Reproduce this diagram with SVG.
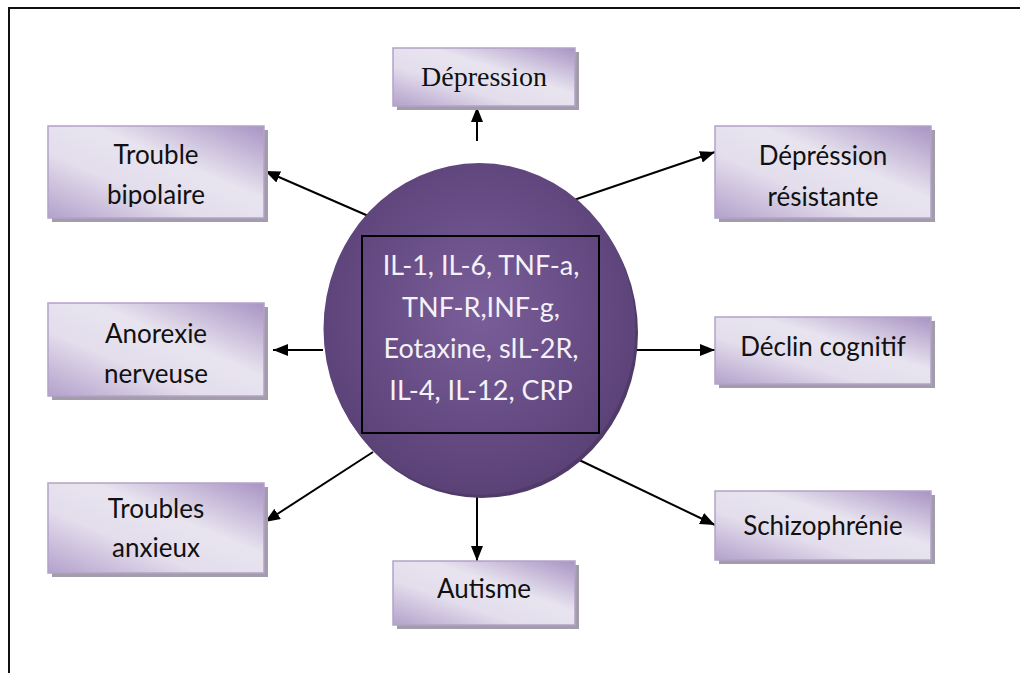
<svg xmlns="http://www.w3.org/2000/svg" width="1020" height="673" viewBox="0 0 1020 673">
<style>
.box{fill:url(#boxg);stroke:#b3a3c8;stroke-width:1.5}
.shadow{fill:#a39cab}
.lbl{font-family:Lato,"Open Sans","Liberation Sans",sans-serif;font-size:26px;fill:#111;text-anchor:middle}
.serif{font-family:"Liberation Serif",serif;font-size:28px;fill:#111;text-anchor:middle}
.ctext{font-family:Lato,"Open Sans","Liberation Sans",sans-serif;font-size:27px;fill:#f4f1f8;text-anchor:middle}
.conn{stroke:#000;stroke-width:2;fill:none;marker-end:url(#arr)}
</style>
<defs>
<linearGradient id="boxg" x1="0" y1="1" x2="1" y2="0">
<stop offset="0" stop-color="#b3a1cb"/>
<stop offset="0.35" stop-color="#e3ddec"/>
<stop offset="0.6" stop-color="#e8e4ef"/>
<stop offset="1" stop-color="#a993c4"/>
</linearGradient>
<radialGradient id="circg" cx="0.5" cy="0.45" r="0.55">
<stop offset="0" stop-color="#7a5e9a"/>
<stop offset="1" stop-color="#5a4176"/>
</radialGradient>
<marker id="arr" viewBox="0 0 15 12" refX="15" refY="6" markerWidth="15" markerHeight="12" markerUnits="userSpaceOnUse" orient="auto">
<path d="M0,0 L15,6 L0,12 Z" fill="#000"/>
</marker>
<clipPath id="clipbip"><rect x="48" y="126" width="216" height="81"/></clipPath>
</defs>
<rect width="1020" height="673" fill="#fff"/>
<path d="M9,673 V8 H1020" fill="none" stroke="#111" stroke-width="2"/>

<g id="connectors">
<line class="conn" x1="477" y1="141" x2="477" y2="107"/>
<line class="conn" x1="373" y1="218" x2="265" y2="171"/>
<line class="conn" x1="568" y1="202" x2="715" y2="152"/>
<line class="conn" x1="323" y1="350" x2="273" y2="350"/>
<line class="conn" x1="636" y1="350" x2="715" y2="350"/>
<line class="conn" x1="373" y1="452" x2="265" y2="522"/>
<line class="conn" x1="573" y1="457" x2="715" y2="525"/>
<line class="conn" x1="477" y1="495" x2="477" y2="561"/>
</g>

<g id="center">
<ellipse cx="482" cy="333" rx="156" ry="165" fill="#4f3a68"/>
<ellipse cx="479.5" cy="329" rx="156" ry="166" fill="url(#circg)"/>
<rect x="362" y="236" width="237" height="197" fill="none" stroke="#000" stroke-width="2"/>
<text class="ctext" x="481" y="275">IL-1, IL-6, TNF-a,</text>
<text class="ctext" x="481" y="316.5">TNF-R,INF-g,</text>
<text class="ctext" x="481" y="358">Eotaxine, sIL-2R,</text>
<text class="ctext" x="481" y="399.5">IL-4, IL-12, CRP</text>
</g>

<g id="depression">
<rect class="shadow" x="397" y="52" width="182" height="58"/>
<rect class="box" x="393" y="48" width="182" height="58"/>
<text class="serif" x="484" y="86">Dépression</text>
</g>

<g id="trouble-bipolaire">
<rect class="shadow" x="52" y="130" width="216" height="92"/>
<rect class="box" x="48" y="126" width="216" height="92"/>
<text class="lbl" x="156" y="164">Trouble</text>
<text class="lbl" x="156" y="204" clip-path="url(#clipbip)">bipolaire</text>
</g>

<g id="depression-resistante">
<rect class="shadow" x="719" y="130" width="216" height="92"/>
<rect class="box" x="715" y="126" width="216" height="92"/>
<text class="lbl" x="823" y="165">Dépréssion</text>
<text class="lbl" x="823" y="206">résistante</text>
</g>

<g id="anorexie">
<rect class="shadow" x="52" y="307" width="216" height="93"/>
<rect class="box" x="48" y="303" width="216" height="93"/>
<text class="lbl" x="156" y="342.5">Anorexie</text>
<text class="lbl" x="156" y="383">nerveuse</text>
</g>

<g id="declin-cognitif">
<rect class="shadow" x="719" y="321" width="216" height="67"/>
<rect class="box" x="715" y="317" width="216" height="67"/>
<text class="lbl" x="823" y="356">Déclin cognitif</text>
</g>

<g id="troubles-anxieux">
<rect class="shadow" x="52" y="487" width="216" height="90"/>
<rect class="box" x="48" y="483" width="216" height="90"/>
<text class="lbl" x="156" y="518">Troubles</text>
<text class="lbl" x="156" y="557">anxieux</text>
</g>

<g id="schizophrenie">
<rect class="shadow" x="719" y="495" width="216" height="69"/>
<rect class="box" x="715" y="491" width="216" height="69"/>
<text class="lbl" x="823" y="535">Schizophrénie</text>
</g>

<g id="autisme">
<rect class="shadow" x="397" y="565" width="182" height="64"/>
<rect class="box" x="393" y="561" width="182" height="64"/>
<text class="lbl" x="484" y="598">Autisme</text>
</g>
</svg>
